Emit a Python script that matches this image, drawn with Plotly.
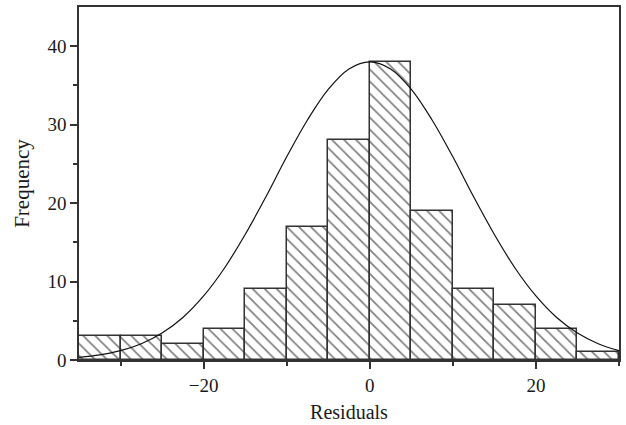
import plotly.graph_objects as go

# Histogram bins (centres) and counts
bin_centers = [-32.5, -27.5, -22.5, -17.5, -12.5, -7.5, -2.5, 2.5, 7.5, 12.5, 17.5, 22.5, 27.5]
counts = [3, 3, 2, 4, 9, 17, 28, 38, 19, 9, 7, 4, 1]
bin_width = 5

# Fitted normal curve
curve_x = [-35, -32.5, -30, -27.5, -25, -22.5, -20, -17.5, -15, -12.5, -10, -7.5, -5, -2.5, 0,
           2.5, 5, 7.5, 10, 12.5, 15, 17.5, 20, 22.5, 25, 27.5, 30]
curve_y = [0.34, 0.65, 1.19, 2.07, 3.43, 5.42, 8.17, 11.7, 16.0, 20.8, 25.9, 30.6, 34.5, 37.1, 38.0,
           37.1, 34.5, 30.6, 25.9, 20.8, 16.0, 11.7, 8.17, 5.42, 3.43, 2.07, 1.19]

font_family = "Liberation Serif"
axis_color = "#333333"

fig = go.Figure()
fig.add_trace(go.Bar(
    x=bin_centers, y=counts, width=[bin_width] * len(counts),
    marker=dict(
        color="white",
        line=dict(color=axis_color, width=1.5),
        pattern=dict(shape="\\", fgcolor="#000000", bgcolor="white", size=8.5, solidity=0.2),
    ),
    showlegend=False,
))
fig.add_trace(go.Scatter(
    x=curve_x, y=curve_y, mode="lines",
    line=dict(color="#111111", width=1.2, shape="spline"),
    showlegend=False,
))

fig.update_layout(
    width=626, height=425,
    margin=dict(l=79, r=5, t=6, b=63),
    paper_bgcolor="white", plot_bgcolor="white",
    font=dict(family=font_family, size=19, color="#1a1a1a"),
    bargap=0,
)
fig.update_xaxes(
    range=[-35, 30], showgrid=False, zeroline=False,
    showline=True, linecolor=axis_color, linewidth=1.5, mirror=True,
    tickmode="array", tickvals=[-20, 0, 20], ticks="outside", ticklen=7,
    tickwidth=1.5, tickcolor=axis_color,
    minor=dict(tickmode="array", tickvals=[-30, -10, 10, 30], ticks="outside", ticklen=4,
               tickwidth=1.5, tickcolor=axis_color),
    title=dict(text="Residuals", font=dict(size=20), standoff=10),
)
fig.update_yaxes(
    range=[0, 45], showgrid=False, zeroline=False,
    showline=True, linecolor=axis_color, linewidth=1.5, mirror=True,
    tickmode="array", tickvals=[0, 10, 20, 30, 40], ticks="outside", ticklen=7,
    tickwidth=1.5, tickcolor=axis_color,
    minor=dict(tickmode="array", tickvals=[5, 15, 25, 35], ticks="outside", ticklen=4,
               tickwidth=1.5, tickcolor=axis_color),
    title=dict(text="Frequency", font=dict(size=21), standoff=12),
)

fig.write_html("out.html")
